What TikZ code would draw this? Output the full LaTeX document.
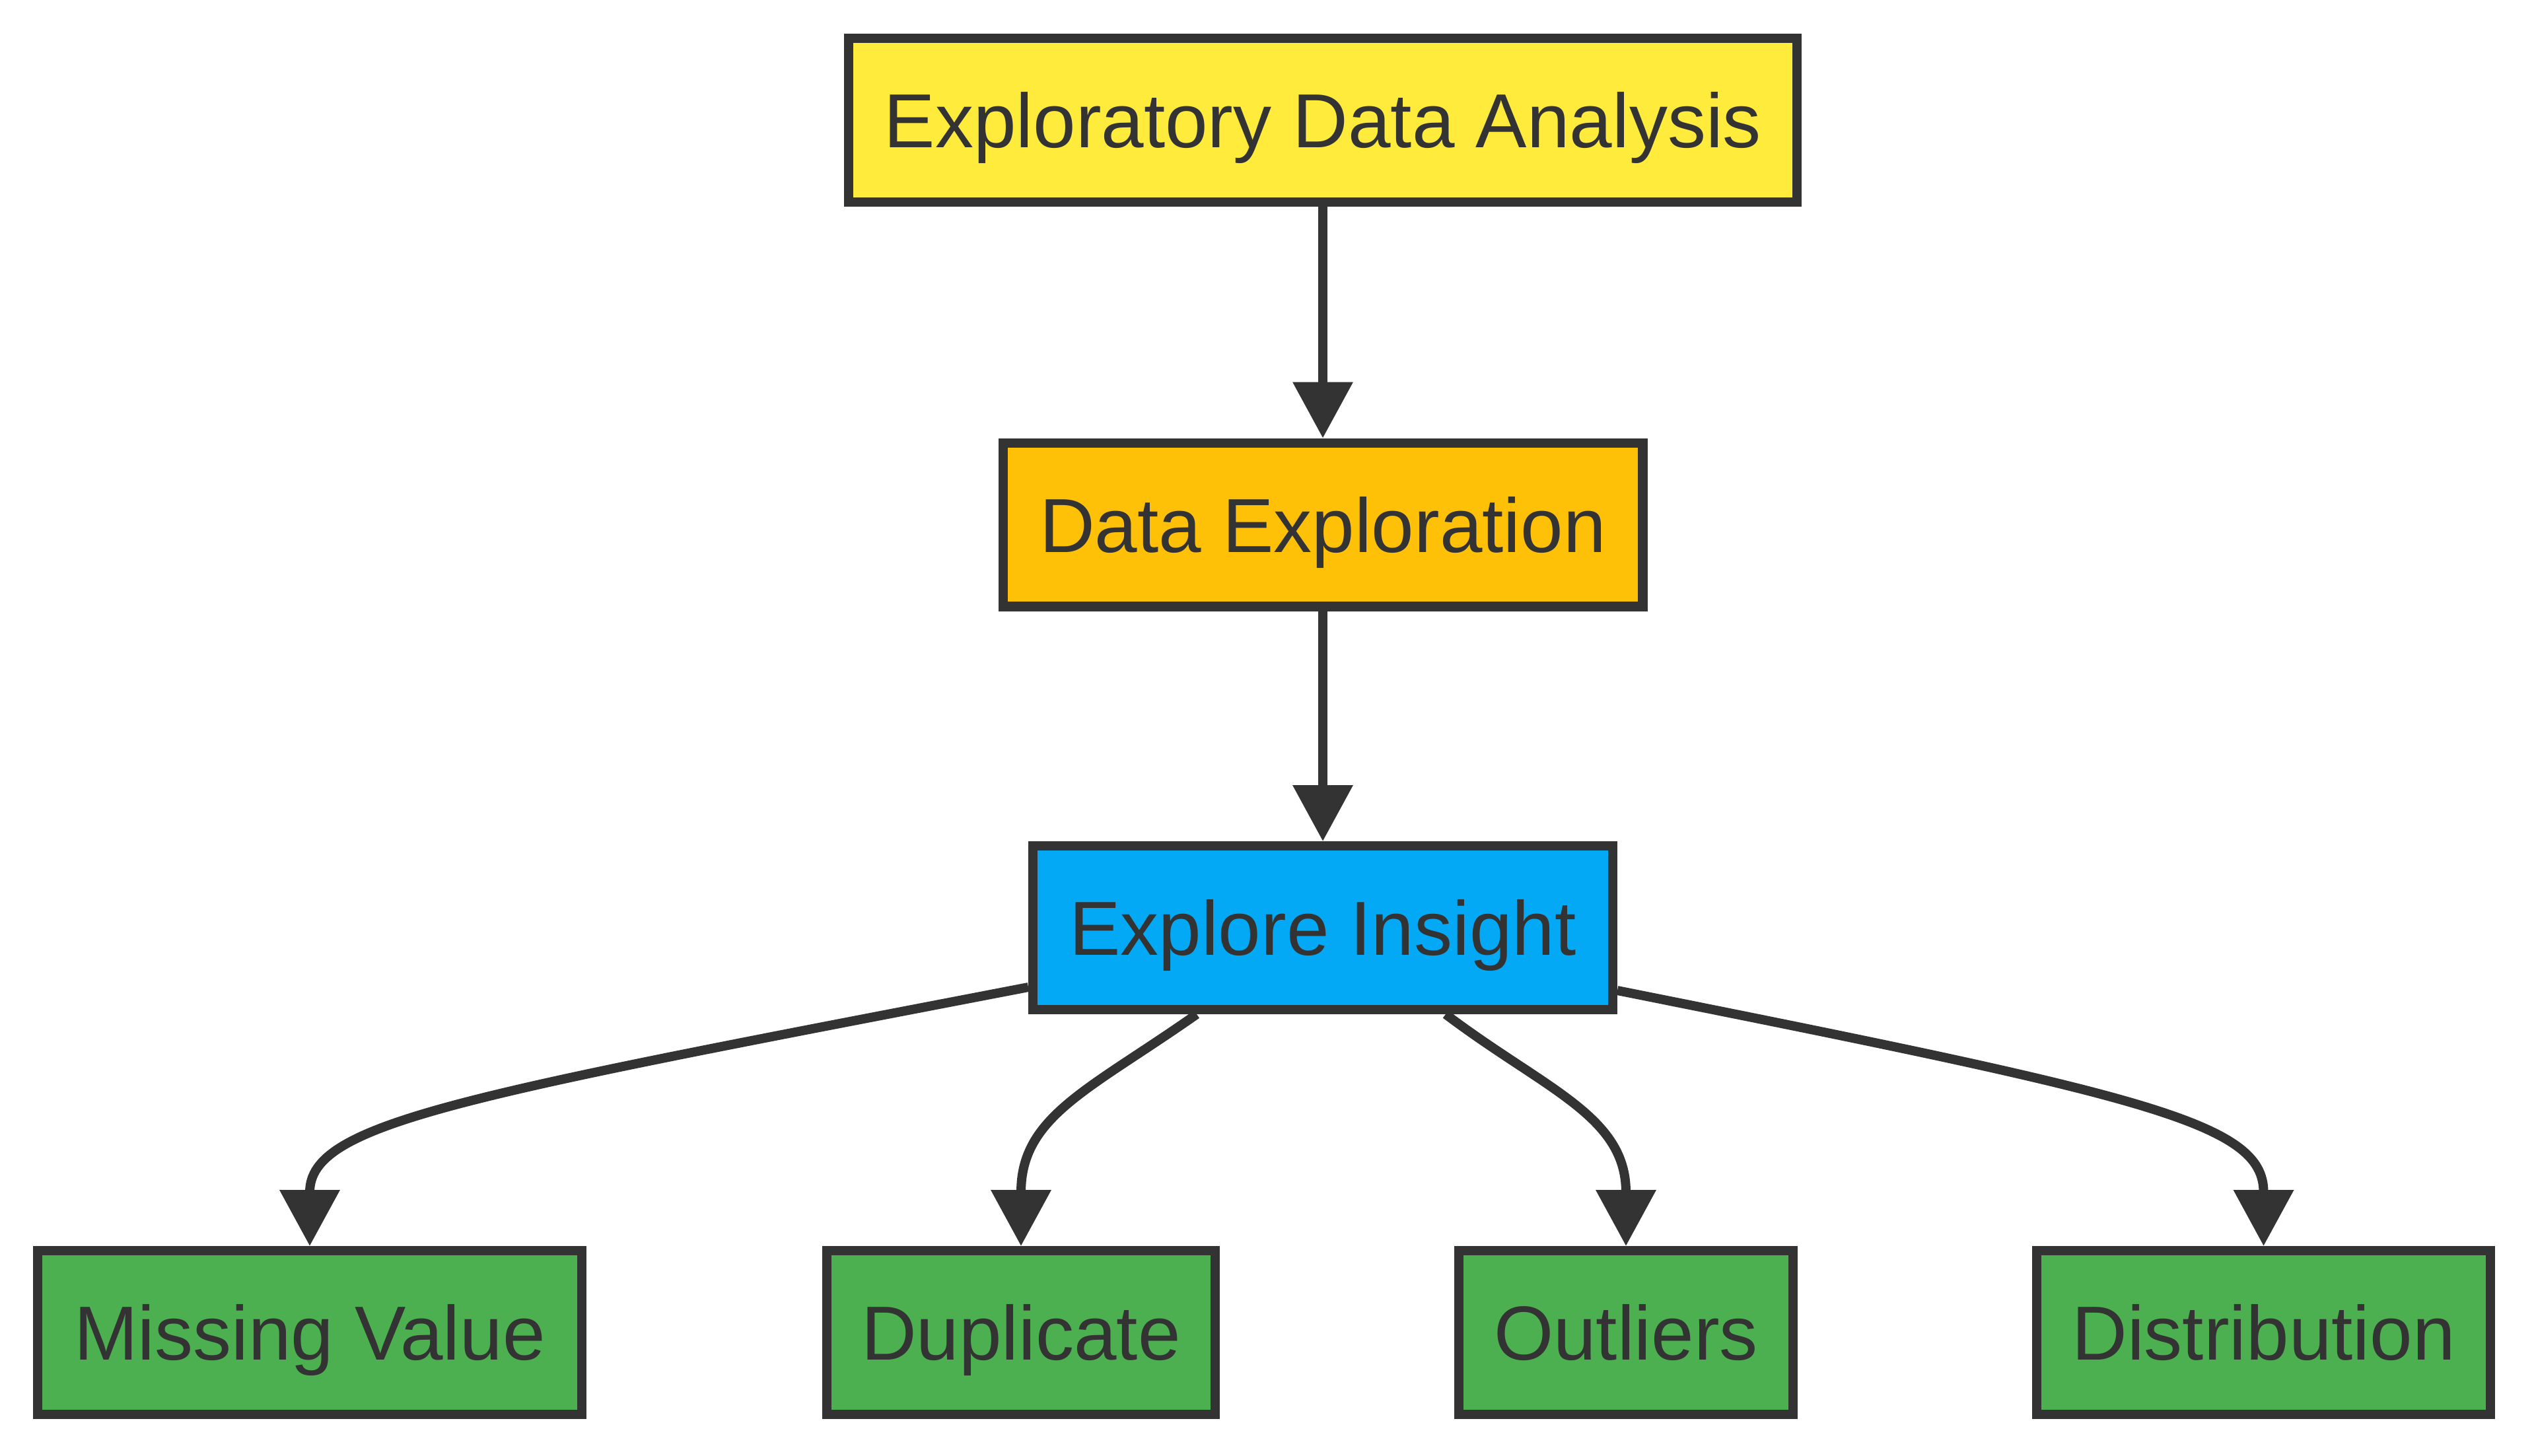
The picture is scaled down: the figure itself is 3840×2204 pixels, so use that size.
\documentclass[tikz,border=0pt]{standalone}
\usepackage{fontspec}
\setmainfont{Liberation Sans}
\usetikzlibrary{arrows.meta}
\definecolor{ink}{HTML}{333333}
\definecolor{cyellow}{HTML}{FFEB3B}
\definecolor{camber}{HTML}{FFC107}
\definecolor{cblue}{HTML}{03A9F4}
\definecolor{cgreen}{HTML}{4CAF50}
\begin{document}
\begin{tikzpicture}[x=0.25pt,y=-0.25pt,
  box/.style={draw=ink, line width=3.6pt, text=ink, minimum height=61.9pt,
    inner sep=0pt, font=\fontsize{29}{34}\selectfont,
    text height=20.75pt, text depth=0pt},
  edge/.style={draw=ink, line width=3.5pt,
    -{Triangle[length=21.25pt,width=22pt]}}]
\useasboundingbox[fill=white] (0,0) rectangle (3840,2204);

\node[box, fill=cyellow, minimum width=358.9pt] (eda) at (2003,182) {Exploratory Data Analysis};
\node[box, fill=camber, minimum width=242.15pt] (de) at (2003,794.5) {Data Exploration};
\node[box, fill=cblue, minimum width=219.4pt] (ei) at (2003,1405) {Explore Insight};
\node[box, fill=cgreen, minimum width=205.9pt] (mv) at (469,2018) {Missing Value};
\node[box, fill=cgreen, minimum width=147pt] (dup) at (1546,2018) {Duplicate};
\node[box, fill=cgreen, minimum width=126.5pt] (out) at (2462,2018) {Outliers};
\node[box, fill=cgreen, minimum width=171.8pt] (dist) at (3427.5,2018) {Distribution};

\draw[edge] (eda.south) -- (de.north);
\draw[edge] (de.south) -- (ei.north);
\draw[edge] ([yshift=10.25pt]ei.south west) .. controls (700,1660) and (469,1700) .. (mv.north);
\draw[edge] ([xshift=-47.75pt]ei.south) .. controls (1650,1650) and (1546,1690) .. (dup.north);
\draw[edge] ([xshift=46.5pt]ei.south) .. controls (2340,1650) and (2462,1690) .. (out.north);
\draw[edge] ([yshift=9pt]ei.south east) .. controls (3250,1660) and (3427.5,1700) .. (dist.north);
\end{tikzpicture}
\end{document}
